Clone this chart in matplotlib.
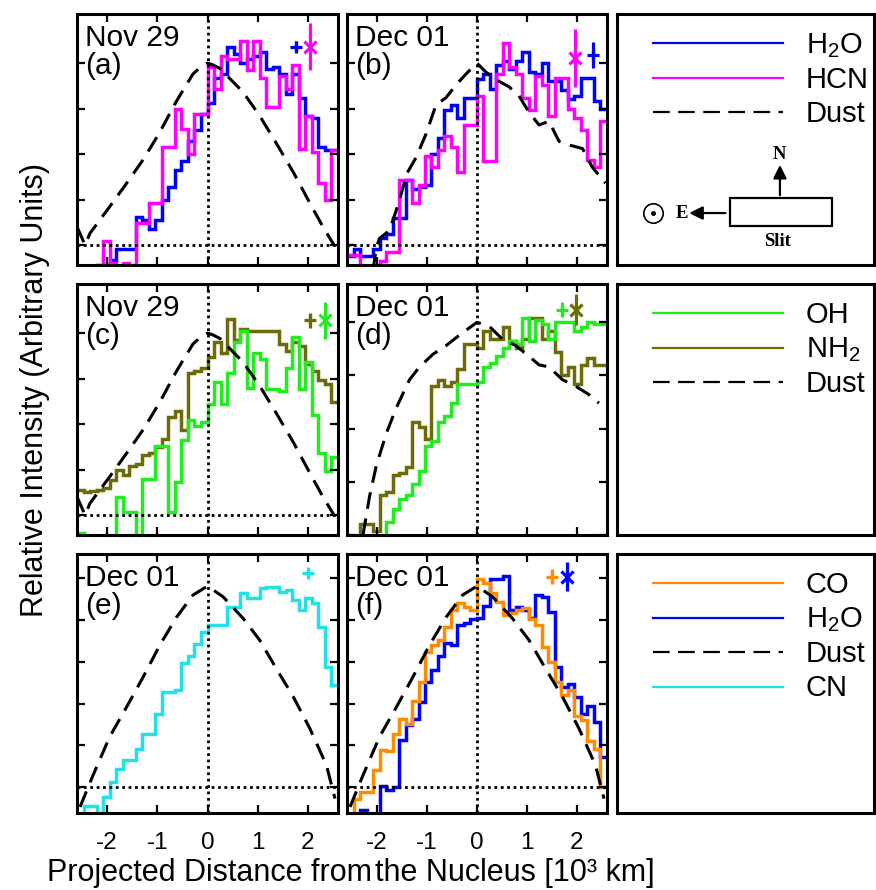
import numpy as np
import matplotlib.pyplot as plt
from matplotlib.patches import Rectangle

plt.rcParams['font.family'] = ['Liberation Sans', 'DejaVu Sans']
plt.rcParams['axes.unicode_minus'] = False

# projected distance bins [10^3 km]
edges = np.linspace(-2.6, 2.6, 41)
xticks = [-2, -1, 0, 1, 2]

# (a) Nov 29
h2o_a = [-0.12, -0.12, -0.12, -0.11, -0.11, -0.08, -0.024, -0.024, -0.024, 0.154,
         0.139, 0.087, 0.139, 0.25, 0.32, 0.41, 0.46, 0.57, 0.63, 0.72,
         0.78, 0.92, 0.94, 1.09, 1.05, 1.00, 1.02, 1.04, 1.06, 0.97,
         0.98, 0.94, 0.83, 0.94, 0.81, 0.71, 0.70, 0.54, 0.52, 0.52]
hcn_a = [-0.12, -0.14, -0.15, -0.15, 0.02, -0.10, -0.13, -0.10, -0.11, 0.12,
         0.12, 0.23, 0.23, 0.54, 0.54, 0.75, 0.64, 0.50, 0.72, 0.72,
         0.98, 0.86, 1.04, 1.02, 1.02, 1.12, 0.96, 1.12, 0.92, 0.76,
         0.76, 0.93, 0.86, 0.99, 0.53, 0.71, 0.51, 0.34, 0.25, 0.52]
# (b) Dec 01
h2o_b = [-0.06, -0.02, -0.06, -0.06, -0.02, 0.04, 0.06, 0.15, 0.15, 0.36,
         0.31, 0.32, 0.33, 0.50, 0.59, 0.74, 0.77, 0.70, 0.81, 0.81,
         0.91, 0.94, 0.86, 0.99, 1.01, 0.97, 1.01, 1.06, 0.95, 0.94,
         1.00, 0.90, 0.90, 0.85, 0.80, 0.82, 0.92, 0.92, 0.79, 0.75]
hcn_b = [-0.055, -0.055, -0.14, -0.14, -0.14, -0.09, -0.037, -0.037, 0.36, 0.36,
         0.23, 0.33, 0.49, 0.43, 0.52, 0.60, 0.54, 0.40, 0.66, 0.66,
         0.82, 0.46, 0.46, 0.94, 1.11, 0.98, 0.94, 0.81, 0.74, 0.93,
         0.88, 0.71, 0.92, 0.92, 0.75, 0.70, 0.63, 0.47, 0.43, 0.68]
# (c) Nov 29
nh2_c = [0.14, 0.126, 0.13, 0.135, 0.15, 0.195, 0.25, 0.22, 0.27, 0.28,
         0.33, 0.34, 0.375, 0.42, 0.54, 0.57, 0.47, 0.78, 0.79, 0.81,
         0.87, 0.95, 0.89, 1.08, 0.96, 1.02, 1.01, 1.01, 1.01, 1.01,
         1.01, 0.94, 0.90, 0.95, 0.93, 0.83, 0.79, 0.74, 0.72, 0.62]
oh_c = [-0.10, -0.12, -0.16, -0.16, -0.16, -0.16, 0.10, 0.015, 0.015, -0.16,
        0.20, 0.20, 0.38, 0.38, 0.015, 0.18, 0.41, 0.52, 0.49, 0.51,
        0.61, 0.73, 0.61, 0.78, 0.95, 1.01, 0.70, 0.89, 0.86, 0.69,
        0.69, 0.68, 0.81, 0.98, 0.69, 0.84, 0.55, 0.34, 0.24, 0.32]
# (d) Dec 01
oh_d = [-0.1, -0.1, -0.1, -0.1, -0.1, -0.05, 0.06, 0.12, 0.17, 0.19,
        0.24, 0.30, 0.42, 0.44, 0.53, 0.56, 0.62, 0.71, 0.71, 0.71,
        0.72, 0.79, 0.81, 0.84, 0.88, 0.91, 0.90, 1.02, 0.91, 1.01,
        0.99, 0.92, 1.0, 1.0, 1.0, 0.96, 0.98, 1.0, 0.99, 0.99]
nh2_d = [-0.05, -0.05, 0.05, 0.05, 0.02, 0.19, 0.20, 0.28, 0.29, 0.32,
         0.53, 0.51, 0.45, 0.70, 0.73, 0.70, 0.72, 0.78, 0.90, 0.90,
         0.88, 0.96, 0.92, 0.92, 0.98, 0.91, 0.88, 0.92, 1.02, 1.02,
         0.92, 0.96, 0.86, 0.75, 0.79, 0.71, 0.80, 0.83, 0.80, 0.80]
# (e) Dec 01
cn_e = [-0.14, -0.093, -0.093, -0.125, -0.048, 0.024, 0.088, 0.128, 0.128, 0.184,
        0.253, 0.253, 0.352, 0.456, 0.456, 0.464, 0.592, 0.627, 0.685, 0.744,
        0.776, 0.776, 0.776, 0.861, 0.861, 0.928, 0.904, 0.904, 0.952, 0.96,
        0.96, 0.936, 0.944, 0.896, 0.848, 0.904, 0.88, 0.768, 0.576, 0.488]
# (f) Dec 01
h2o_f = [-0.14, -0.14, -0.11, -0.14, -0.14, 0.003, -0.013, 0.0, 0.224, 0.296,
         0.328, 0.408, 0.504, 0.56, 0.627, 0.688, 0.68, 0.776, 0.787, 0.803,
         0.808, 0.867, 0.995, 0.995, 1.013, 0.848, 0.861, 0.848, 0.808, 0.92,
         0.912, 0.84, 0.576, 0.477, 0.496, 0.432, 0.352, 0.387, 0.312, 0.144]
co_f = [-0.14, -0.06, -0.024, -0.024, 0.083, 0.179, 0.172, 0.256, 0.328, 0.304,
        0.413, 0.504, 0.648, 0.68, 0.704, 0.765, 0.848, 0.883, 0.861, 0.848,
        0.995, 0.979, 0.928, 0.888, 0.824, 0.835, 0.848, 0.856, 0.803, 0.776,
        0.672, 0.6, 0.504, 0.44, 0.464, 0.339, 0.32, 0.221, 0.184, 0.0]

# dust profiles
dust_x_nov = [-2.60, -2.44, -2.34, -1.95, -1.61, -1.28, -0.95, -0.62, -0.29, -0.15,
              0.0, 0.11, 0.25, 0.71, 1.04, 1.37, 1.71, 2.04, 2.30, 2.52]
dust_nov = [0.10, 0.0, 0.065, 0.21, 0.34, 0.47, 0.62, 0.79, 0.94, 0.975,
            1.0, 0.99, 0.97, 0.84, 0.71, 0.56, 0.40, 0.23, 0.10, 0.0]
dust_x_b = [-2.08, -2.01, -1.95, -1.75, -1.55, -1.41, -1.22, -1.02, -0.82, -0.62,
            -0.42, -0.22, 0.0, 0.18, 0.44, 0.64, 0.84, 1.04, 1.24, 1.44,
            1.64, 1.84, 2.11, 2.30, 2.57]
dust_b = [-0.14, -0.01, 0.036, 0.08, 0.245, 0.39, 0.48, 0.61, 0.77, 0.81,
          0.88, 0.94, 1.0, 0.95, 0.90, 0.87, 0.82, 0.73, 0.66, 0.68,
          0.57, 0.55, 0.53, 0.43, 0.34]
dust_x_d = [-2.28, -2.15, -2.01, -1.81, -1.61, -1.35, -1.15, -0.88, -0.62, -0.35,
            0.0, 0.25, 0.51, 0.78, 1.04, 1.24, 1.44, 1.71, 1.97, 2.24, 2.44]
dust_d = [0.0, 0.18, 0.33, 0.48, 0.60, 0.73, 0.79, 0.85, 0.89, 0.94,
          1.0, 0.98, 0.92, 0.89, 0.84, 0.80, 0.79, 0.73, 0.70, 0.66, 0.62]
dust_x_ef = [-2.54, -2.28, -1.95, -1.61, -1.28, -0.95, -0.62, -0.29, 0.0,
             0.31, 0.71, 1.04, 1.37, 1.71, 2.04, 2.37, 2.54]
dust_ef = [-0.096, 0.056, 0.24, 0.384, 0.528, 0.68, 0.813, 0.92, 0.963,
           0.912, 0.808, 0.704, 0.568, 0.432, 0.28, 0.104, -0.056]

BLUE = '#0000ff'
MAGENTA = '#ff00ff'
GREEN = '#1eee1e'
OLIVE = '#6e6a08'
CYAN = '#20e0e8'
ORANGE = '#ff8c00'
H2O = r'$\mathregular{H_2O}$'
NH2 = r'$\mathregular{NH_2}$'

W, H = 876, 890
fig = plt.figure(figsize=(W / 100, H / 100), dpi=100)


def px_axes(left, top, w, h):
    return fig.add_axes([left / W, 1 - (top + h) / H, w / W, h / H])


col_left = [77, 347, 617]
col_w = [261, 260, 257]
row_top = [14, 284, 554]
row_h = [251, 251, 259]

dash = (0, (5.5, 3.2))
dot = (0, (1, 1.3))


def data_panel(r, c, ylim, yticks, date, tag):
    ax = px_axes(col_left[c], row_top[r], col_w[c], row_h[r])
    ax.set_xlim(-2.6, 2.6)
    ax.set_ylim(*ylim)
    ax.set_xticks(xticks)
    ax.set_yticks(yticks)
    ax.tick_params(direction='in', top=True, right=True, length=5.5, width=1.6,
                   labelleft=False, labelbottom=(r == 2), labelsize=17.5, pad=14)
    for s in ax.spines.values():
        s.set_linewidth(2.2)
    ax.axvline(0, color='k', ls=dot, lw=2)
    ax.axhline(0, color='k', ls=dot, lw=2)
    ax.annotate(date + '\n' + tag, xy=(0, 1), xycoords='axes fraction',
                xytext=(8, -10), textcoords='offset pixels', va='top', ha='left',
                fontsize=21.5, linespacing=0.98)
    return ax


def steps(ax, vals, color):
    ax.stairs(vals, edges, baseline=None, color=color, lw=2.5)


def dust(ax, x, y):
    ax.plot(x, y, color='k', ls=dash, lw=2.2)


def err(ax, x, y, e, marker, color):
    ax.errorbar([x], [y], yerr=[e], fmt=marker, color=color, ms=8, mew=2.3,
                elinewidth=2.3, capsize=0)


ylim12 = (-0.11, 1.27)
yt12 = [0, 0.25, 0.5, 0.75, 1.0]
ylim3 = (-0.125, 1.117)
yt3 = [0, 0.2, 0.4, 0.6, 0.8, 1.0]

ax = data_panel(0, 0, ylim12, yt12, 'Nov 29', '(a)')
dust(ax, dust_x_nov, dust_nov)
steps(ax, h2o_a, BLUE)
steps(ax, hcn_a, MAGENTA)
err(ax, 1.76, 1.09, 0.03, '+', BLUE)
err(ax, 2.04, 1.09, 0.13, 'x', MAGENTA)

ax = data_panel(0, 1, ylim12, yt12, 'Dec 01', '(b)')
dust(ax, dust_x_b, dust_b)
steps(ax, h2o_b, BLUE)
steps(ax, hcn_b, MAGENTA)
err(ax, 1.97, 1.03, 0.16, 'x', MAGENTA)
err(ax, 2.32, 1.045, 0.07, '+', BLUE)

ax = data_panel(1, 0, ylim12, yt12, 'Nov 29', '(c)')
dust(ax, dust_x_nov, dust_nov)
steps(ax, nh2_c, OLIVE)
steps(ax, oh_c, GREEN)
err(ax, 2.05, 1.07, 0.04, '+', OLIVE)
err(ax, 2.35, 1.07, 0.10, 'x', GREEN)

ax = data_panel(1, 1, (0, 1.18), yt12, 'Dec 01', '(d)')
dust(ax, dust_x_d, dust_d)
steps(ax, nh2_d, OLIVE)
steps(ax, oh_d, GREEN)
err(ax, 1.71, 1.06, 0.035, '+', GREEN)
err(ax, 1.99, 1.06, 0.075, 'x', OLIVE)

ax = data_panel(2, 0, ylim3, yt3, 'Dec 01', '(e)')
dust(ax, dust_x_ef, dust_ef)
steps(ax, cn_e, CYAN)
err(ax, 2.0, 1.024, 0.02, '+', CYAN)

ax = data_panel(2, 1, ylim3, yt3, 'Dec 01', '(f)')
dust(ax, dust_x_ef, dust_ef)
steps(ax, h2o_f, BLUE)
steps(ax, co_f, ORANGE)
err(ax, 1.5, 1.008, 0.035, '+', ORANGE)
err(ax, 1.8, 1.008, 0.07, 'x', BLUE)


# legend panels on the right
def key_panel(r, entries):
    ax = px_axes(col_left[2], row_top[r], col_w[2], row_h[r])
    ax.set_xlim(0, 1)
    ax.set_ylim(0, 1)
    ax.set_xticks([])
    ax.set_yticks([])
    for s in ax.spines.values():
        s.set_linewidth(2.2)
    h = row_h[r]
    for i, (label, color, ls) in enumerate(entries):
        y = 1 - (29 + 34.5 * i) / h
        ax.plot([0.14, 0.646], [y, y], color=color, ls=ls, lw=1.6)
        ax.text(0.735, y - 10 / h, label, fontsize=21, va='baseline', ha='left')
    return ax


key_dash = (0, (7.5, 3.8))
ax = key_panel(0, [(H2O, BLUE, '-'), ('HCN', MAGENTA, '-'), ('Dust', 'k', key_dash)])
# slit orientation sketch
serif = dict(family=['Liberation Serif', 'DejaVu Serif'], weight='bold', fontsize=13.5)
ax.add_patch(Rectangle((0.44, 0.155), 0.397, 0.112, fill=False, lw=1.6, ec='k'))
ax.annotate('', xy=(0.634, 0.41), xytext=(0.634, 0.267),
            arrowprops=dict(arrowstyle='-|>', lw=1.6, color='k', mutation_scale=20))
ax.annotate('', xy=(0.27, 0.207), xytext=(0.433, 0.207),
            arrowprops=dict(arrowstyle='-|>', lw=1.6, color='k', mutation_scale=20))
ax.text(0.634, 0.44, 'N', ha='center', va='center', **serif)
ax.text(0.252, 0.207, 'E', ha='center', va='center', **serif)
ax.text(0.623, 0.092, 'Slit', ha='center', va='center', **serif)
ax.plot([0.14], [0.207], marker='o', ms=14, mfc='white', mec='k', mew=1.2)
ax.plot([0.14], [0.207], marker='o', ms=2.5, color='k')

key_panel(1, [('OH', GREEN, '-'), (NH2, OLIVE, '-'), ('Dust', 'k', key_dash)])
key_panel(2, [('CO', ORANGE, '-'), (H2O, BLUE, '-'), ('Dust', 'k', key_dash),
              ('CN', CYAN, '-')])

fig.text(35 / W, 1 - 390 / H, 'Relative Intensity (Arbitrary Units)', rotation=90,
         ha='center', va='center', fontsize=22)
fig.text(372 / W, 1 - 881 / H, 'Projected Distance from', ha='right', va='baseline',
         fontsize=22)
fig.text(375 / W, 1 - 881 / H, 'the Nucleus [10\u00b3 km]', ha='left', va='baseline',
         fontsize=22)

fig.savefig('out.png', dpi=100)
